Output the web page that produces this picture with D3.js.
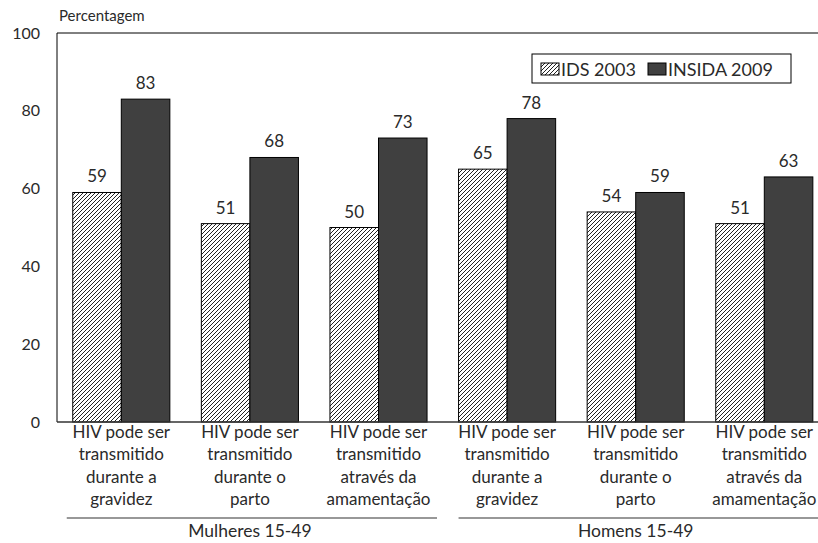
<!DOCTYPE html>
<html><head><meta charset="utf-8">
<script src="https://cdn.jsdelivr.net/npm/d3@7"></script>
<style>body{margin:0;background:#fff}text{font-family:Lato,"Open Sans",sans-serif;fill:#2a2a2a}</style>
</head><body><svg id="c" width="818" height="543"></svg>
<script>
const categories = [
  ["HIV pode ser","transmitido","durante a","gravidez"],
  ["HIV pode ser","transmitido","durante o","parto"],
  ["HIV pode ser","transmitido","através da","amamentação"],
  ["HIV pode ser","transmitido","durante a","gravidez"],
  ["HIV pode ser","transmitido","durante o","parto"],
  ["HIV pode ser","transmitido","através da","amamentação"]
];
const groups = ["Mulheres 15-49","Homens 15-49"];
const seriesNames = ["IDS 2003","INSIDA 2009"];
const ids2003 = [59,51,50,65,54,51];
const insida2009 = [83,68,73,78,59,63];
const yTicks = [0,20,40,60,80,100];

(function(){
const svg = d3.select("#c");
const defs = svg.append("defs");
const pat = defs.append("pattern").attr("id","hatch").attr("patternUnits","userSpaceOnUse")
  .attr("width",4).attr("height",4);
pat.append("rect").attr("width",4).attr("height",4).attr("fill","#fff");
pat.append("path").attr("d","M-1,1 l2,-2 M0,4 l4,-4 M3,5 l2,-2").attr("stroke","#222").attr("stroke-width",1);

const pL=57, pR=828.6, pT=33, pB=422;
const x = d3.scaleBand().domain(d3.range(6)).range([pL,pR]).paddingInner(0.245).paddingOuter(0.1225);
const x1 = d3.scaleBand().domain([0,1]).range([0,x.bandwidth()]);
const y = d3.scaleLinear().domain([0,100]).range([pB,pT]);
const colors = ["url(#hatch)","#404040"];
const series = [ids2003, insida2009];

svg.append("line").attr("x1",pL).attr("x2",pR).attr("y1",pT).attr("y2",pT).attr("stroke","#000");
svg.append("line").attr("x1",pL).attr("x2",pL).attr("y1",pT).attr("y2",pB).attr("stroke","#000");

const ya = svg.append("g").attr("transform",`translate(${pL},0)`)
  .call(d3.axisLeft(y).tickValues(yTicks).tickSize(0).tickPadding(17));
ya.select(".domain").remove();
ya.selectAll("text").style("font-size","16px").style("font-family","Lato").attr("fill","#2a2a2a");

svg.append("text").attr("x",59).attr("y",21).style("font-size","15px").text("Percentagem");

series.forEach((s,si)=>{
  svg.append("g").selectAll("rect").data(s).join("rect")
    .attr("x",(d,i)=>x(i)+x1(si)).attr("y",d=>y(d))
    .attr("width",x1.bandwidth()).attr("height",d=>y(0)-y(d))
    .attr("fill",colors[si]).attr("stroke","#000").attr("stroke-width",1);
  svg.append("g").selectAll("text").data(s).join("text")
    .attr("x",(d,i)=>x(i)+x1(si)+x1.bandwidth()/2).attr("y",d=>y(d)-10)
    .attr("text-anchor","middle").style("font-size","17px").text(d=>d);
});

svg.append("line").attr("x1",pL).attr("x2",pR).attr("y1",pB).attr("y2",pB).attr("stroke","#333").attr("stroke-width",1.5);

categories.forEach((lines,i)=>{
  const t = svg.append("text").attr("text-anchor","middle").style("font-size","17px");
  lines.forEach((ln,k)=>t.append("tspan").attr("x",x(i)+x.bandwidth()/2).attr("y",438+k*22.3).text(ln));
});

const gSpans = [[x(0)-6, x(2)+x.bandwidth()+10],[x(3), x(5)+x.bandwidth()+10]];
gSpans.forEach((sp,gi)=>{
  svg.append("line").attr("x1",sp[0]).attr("x2",sp[1]).attr("y1",518).attr("y2",518).attr("stroke","#333").attr("stroke-width",1.2);
  svg.append("text").attr("x",(x(gi*3)+x(gi*3+2)+x.bandwidth())/2).attr("y",537).attr("text-anchor","middle").style("font-size","17.5px").text(groups[gi]);
});

const lg = svg.append("g");
lg.append("rect").attr("x",532).attr("y",54).attr("width",259).attr("height",29).attr("fill","#fff").attr("stroke","#000");
const lx = [541,648];
seriesNames.forEach((n,i)=>{
  lg.append("rect").attr("x",lx[i]).attr("y",63).attr("width",18).attr("height",12).attr("fill",colors[i]).attr("stroke","#000");
  lg.append("text").attr("x",lx[i]+20).attr("y",76).style("font-size","18px").text(n);
});
})();
</script></body></html>
